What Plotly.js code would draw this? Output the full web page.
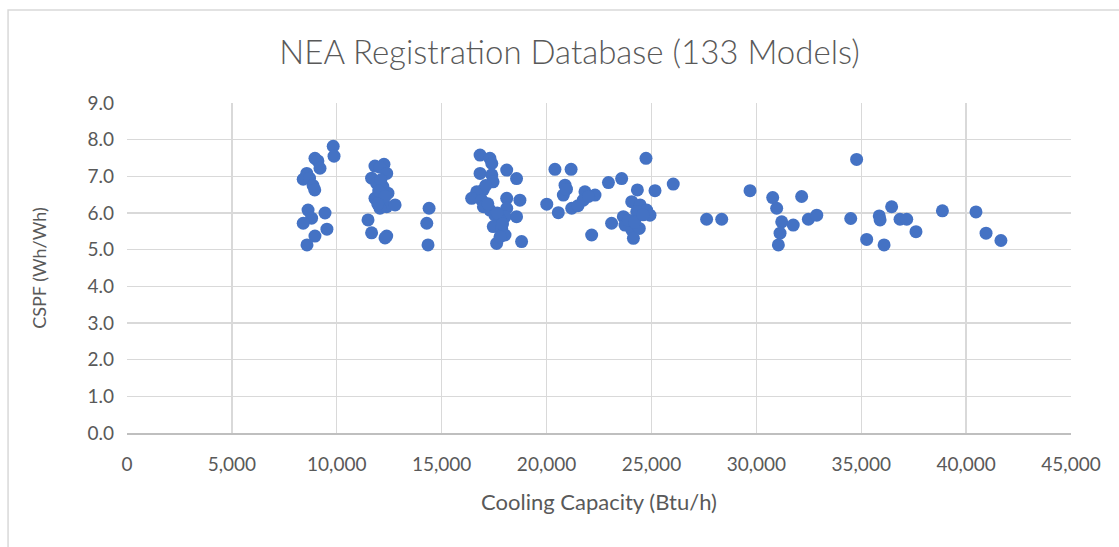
<!DOCTYPE html>
<html>
<head>
<meta charset="utf-8">
<script src="https://cdn.plot.ly/plotly-3.0.1.min.js"></script>
<style>
  html, body { margin: 0; padding: 0; background: #ffffff; }
  #plot { width: 1119px; height: 547px; }
</style>
</head>
<body>
<div id="plot"></div>
<script>
// Cooling capacity (Btu/h) and CSPF (Wh/Wh)
const capacity = [
  // ~9k group
  9830, 9870, 8960, 9100, 9200, 8570, 8400, 8700, 8870, 8950,
  8630, 9440, 8800, 8400, 9530, 8960, 8580,
  // ~12k group
  12250, 11820, 12050, 12380, 11660, 11900, 12200, 12100, 12060, 12440,
  11820, 12140, 12380, 12780, 12060, 12000, 12300, 11950, 11490, 11660,
  12380, 12300,
  // ~14k
  14400, 14290, 14350,
  // ~18k group
  16830, 17300, 17390, 18100, 18570, 16830, 17390, 17450, 16980, 16670,
  16430, 16910, 18100, 18730, 16990, 17300, 18100, 17540, 18020, 18570,
  17780, 17460, 17860, 18020, 17620, 18810, 17780, 17100, 17200, 17650,
  17900,
  // ~20k-26k group
  20400, 21170, 20880, 20800, 20010, 20560, 21200, 21830, 22310, 21750,
  22150, 22950, 23580, 24740, 24330, 25170, 26040, 24060, 24460, 24770,
  24930, 24300, 23100, 23660, 23740, 24060, 24420, 24140, 20950, 21500,
  23900, 24200, 24600, 22000,
  // 27k and up
  27630, 28350, 29700, 30780, 30970, 32160, 31210, 31760, 31130, 31050,
  32480, 32880, 34780, 34500, 35260, 36090, 35860, 35900, 36450, 36850,
  37170, 37610, 38870, 40470, 40950, 41660
];
const cspf = [
  7.82, 7.55, 7.49, 7.42, 7.22, 7.08, 6.92, 6.95, 6.75, 6.63,
  6.08, 6.00, 5.86, 5.72, 5.56, 5.37, 5.13,
  7.33, 7.28, 7.25, 7.08, 6.95, 6.81, 6.72, 6.90, 6.54, 6.54,
  6.40, 6.31, 6.17, 6.22, 6.13, 6.60, 6.45, 6.25, 5.81, 5.46,
  5.37, 5.32,
  6.13, 5.72, 5.13,
  7.58, 7.49, 7.35, 7.17, 6.94, 7.08, 7.04, 6.85, 6.63, 6.58,
  6.40, 6.35, 6.40, 6.35, 6.17, 6.08, 6.13, 5.94, 5.90, 5.90,
  5.81, 5.63, 5.58, 5.40, 5.17, 5.22, 5.35, 6.75, 6.25, 6.00,
  5.70,
  7.19, 7.19, 6.76, 6.49, 6.24, 6.01, 6.13, 6.58, 6.49, 6.35,
  5.40, 6.83, 6.94, 7.49, 6.63, 6.61, 6.79, 6.31, 6.22, 6.08,
  5.94, 6.04, 5.72, 5.90, 5.67, 5.54, 5.58, 5.31, 6.65, 6.20,
  5.80, 5.75, 5.95, 6.45,
  5.83, 5.83, 6.61, 6.42, 6.13, 6.45, 5.76, 5.67, 5.45, 5.13,
  5.83, 5.94, 7.46, 5.85, 5.28, 5.13, 5.92, 5.81, 6.17, 5.83,
  5.83, 5.49, 6.06, 6.03, 5.45, 5.25
];

const FONT = "Lato, 'Open Sans', sans-serif";
const GREY = "#595959";

const trace = {
  x: capacity,
  y: cspf,
  type: "scatter",
  mode: "markers",
  marker: { color: "#4472C4", size: 13, line: { width: 0 } },
  hoverinfo: "x+y",
};

const layout = {
  width: 1119,
  height: 547,
  margin: { l: 127, r: 48, t: 103, b: 114 },
  showlegend: false,
  paper_bgcolor: "#ffffff",
  plot_bgcolor: "#ffffff",
  font: { family: FONT, color: GREY },
  title: {
    text: "NEA Registration Database (133 Models)",
    font: { family: FONT, size: 33, color: GREY, weight: 300 },
    x: 0.509,
    xanchor: "center",
    y: 0.905,
    yanchor: "middle",
  },
  xaxis: {
    range: [0, 45000],
    dtick: 5000,
    tick0: 0,
    tickformat: ",",
    showgrid: true,
    gridcolor: "#d9d9d9",
    gridwidth: 1.3,
    zeroline: false,
    showline: true,
    linecolor: "#bfbfbf",
    linewidth: 1.5,
    ticks: "",
    ticklabelstandoff: 14,
    tickfont: { family: FONT, size: 19, color: GREY },
    title: {
      text: "Cooling Capacity (Btu/h)",
      font: { family: FONT, size: 22, color: GREY },
      standoff: 20,
    },
    fixedrange: true,
  },
  yaxis: {
    range: [0, 9],
    dtick: 1,
    tick0: 0,
    tickformat: ".1f",
    showgrid: true,
    gridcolor: "#d9d9d9",
    gridwidth: 1.3,
    zeroline: false,
    showline: false,
    ticks: "",
    ticklabelstandoff: 12,
    tickfont: { family: FONT, size: 19, color: GREY },
    title: {
      text: "CSPF (Wh/Wh)",
      font: { family: FONT, size: 18, color: GREY },
      standoff: 36,
    },
    fixedrange: true,
  },
  shapes: [
    // chart area frame
    {
      type: "rect",
      xref: "paper",
      yref: "paper",
      x0: -0.126,
      x1: 1.2,
      y0: -0.6,
      y1: 1.282,
      line: { color: "#d9d9d9", width: 1.5 },
      fillcolor: "rgba(0,0,0,0)",
      layer: "below",
    },
  ],
};

Plotly.newPlot("plot", [trace], layout, { displayModeBar: false, staticPlot: true });
</script>
</body>
</html>
